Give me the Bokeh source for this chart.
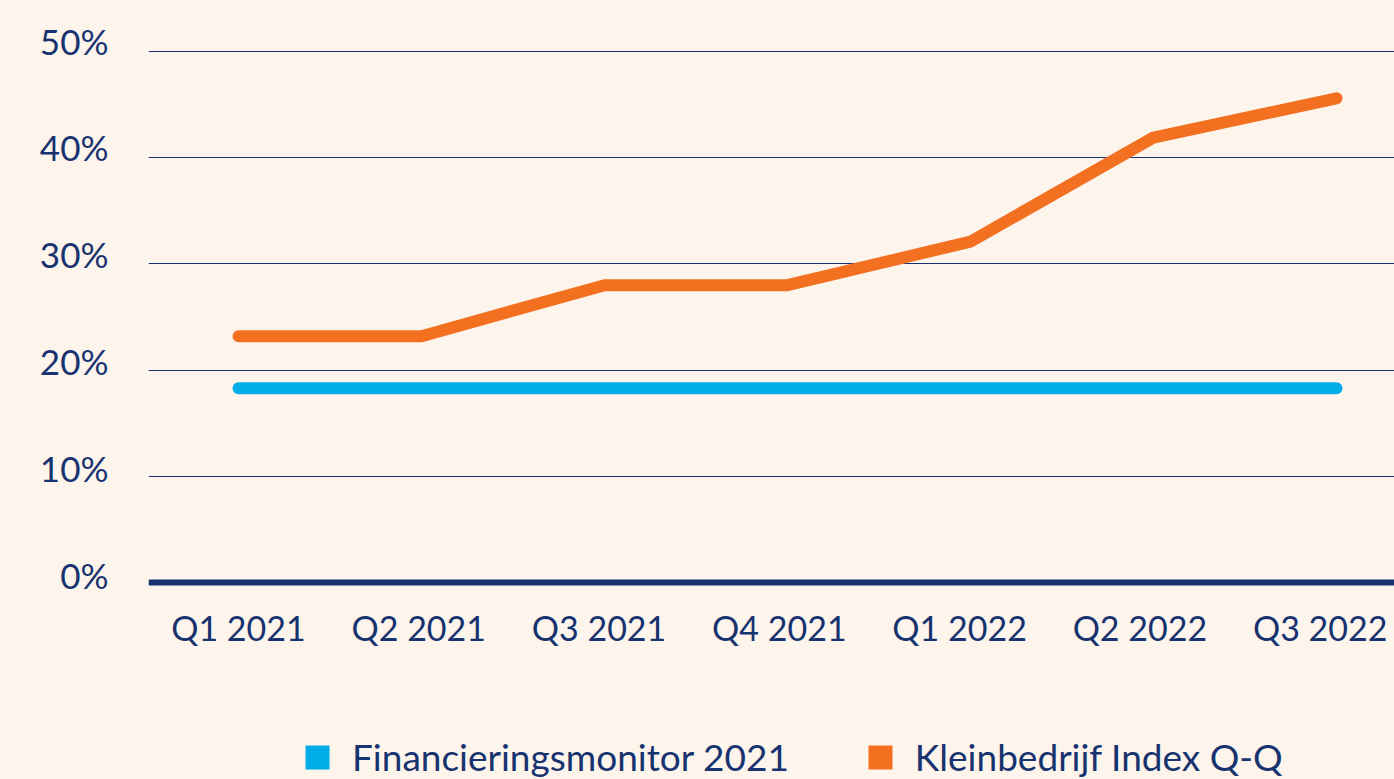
from bokeh.plotting import figure
from bokeh.layouts import column
from bokeh.models import (Range1d, FixedTicker, Legend, LegendItem, Span, ColumnDataSource,
                          LinearAxis)
from bokeh.embed import file_html
from bokeh.resources import INLINE

quarters = ["Q1 2021", "Q2 2021", "Q3 2021", "Q4 2021", "Q1 2022", "Q2 2022", "Q3 2022"]
financieringsmonitor = [18.3, 18.3, 18.3, 18.3, 18.3, 18.3, 18.3]
kleinbedrijf = [23.2, 23.2, 28.0, 28.0, 32.1, 41.9, 45.6]
y_ticks = [0, 10, 20, 30, 40, 50]
series_names = ["Financieringsmonitor 2021", "Kleinbedrijf Index Q-Q"]

BG = "#fdf4ec"
NAVY = "#17336f"
ORANGE = "#f37021"
BLUE = "#00ade6"
FONT = "Lato"

idx = list(range(len(quarters)))
src = ColumnDataSource(dict(x=idx, fm=financieringsmonitor, kb=kleinbedrijf))

p = figure(width=1394, height=700, output_backend="svg", toolbar_location=None,
           x_range=Range1d(-0.492, 6.317), y_range=Range1d(-0.75, 51.04),
           min_border_left=148, min_border_right=0, min_border_top=40, min_border_bottom=110,
           x_axis_location=None, y_axis_location=None)
p.background_fill_color = BG
p.border_fill_color = BG
p.outline_line_color = None

# label ranges (tick labels sit on a slightly different spacing than the data grid)
p.extra_x_ranges = {"xlab": Range1d(-0.499, 6.412)}
p.extra_y_ranges = {"ylab": Range1d(-1.45, 50.0001)}

p.xgrid.visible = False
p.ygrid.ticker = FixedTicker(ticks=y_ticks[1:])
p.ygrid.grid_line_color = NAVY
p.ygrid.grid_line_width = 1

zero = Span(location=y_ticks[0], dimension="width", line_color=NAVY, line_width=6)
p.add_layout(zero)

r_fm = p.line("x", "fm", source=src, line_color=BLUE, line_width=12, line_cap="round", line_join="round")
r_kb = p.line("x", "kb", source=src, line_color=ORANGE, line_width=12, line_cap="round", line_join="round")

xaxis = LinearAxis(x_range_name="xlab", ticker=FixedTicker(ticks=idx),
                   major_label_overrides={i: q for i, q in zip(idx, quarters)})
xaxis.axis_line_color = None
xaxis.major_tick_line_color = None
xaxis.minor_tick_line_color = None
xaxis.major_label_text_font = FONT
xaxis.major_label_text_font_size = "34px"
xaxis.major_label_text_color = NAVY
xaxis.major_label_standoff = 10
p.add_layout(xaxis, "below")

yaxis = LinearAxis(y_range_name="ylab", ticker=FixedTicker(ticks=y_ticks),
                   major_label_overrides={t: f"{t}%" for t in y_ticks})
yaxis.axis_line_color = None
yaxis.major_tick_line_color = None
yaxis.minor_tick_line_color = None
yaxis.major_label_text_font = FONT
yaxis.major_label_text_font_size = "35px"
yaxis.major_label_text_color = NAVY
yaxis.major_label_standoff = 34
p.add_layout(yaxis, "left")

# legend figure
lf = figure(width=1394, height=79, output_backend="svg", toolbar_location=None,
            x_range=Range1d(0, 1), y_range=Range1d(0, 1),
            min_border_left=148, min_border_right=0, min_border_top=0, min_border_bottom=0,
            x_axis_location=None, y_axis_location=None)
lf.background_fill_color = BG
lf.border_fill_color = BG
lf.outline_line_color = None
lf.xgrid.visible = False
lf.ygrid.visible = False
# zero-area swatch carriers: only their colours are shown, in the legend
swatch = ColumnDataSource(dict(l=[0], r=[0], t=[0], b=[0]))
sq_fm = lf.quad(left="l", right="r", top="t", bottom="b", source=swatch, fill_color=BLUE, line_color=None)
sq_kb = lf.quad(left="l", right="r", top="t", bottom="b", source=swatch, fill_color=ORANGE, line_color=None)
legend = Legend(items=[LegendItem(label=series_names[0], renderers=[sq_fm]),
                       LegendItem(label=series_names[1], renderers=[sq_kb])],
                orientation="horizontal", location=(154, 0))
legend.background_fill_alpha = 0
legend.border_line_color = None
legend.padding = 0
legend.margin = 0
legend.glyph_width = 30
legend.glyph_height = 30
legend.label_standoff = 20
legend.spacing = 76
legend.label_text_font = FONT
legend.label_text_font_size = "37px"
legend.label_text_color = NAVY
lf.add_layout(legend, "center")

layout = column(p, lf, spacing=0, styles={"background-color": BG})
open("out.html", "w").write(file_html(layout, INLINE))
